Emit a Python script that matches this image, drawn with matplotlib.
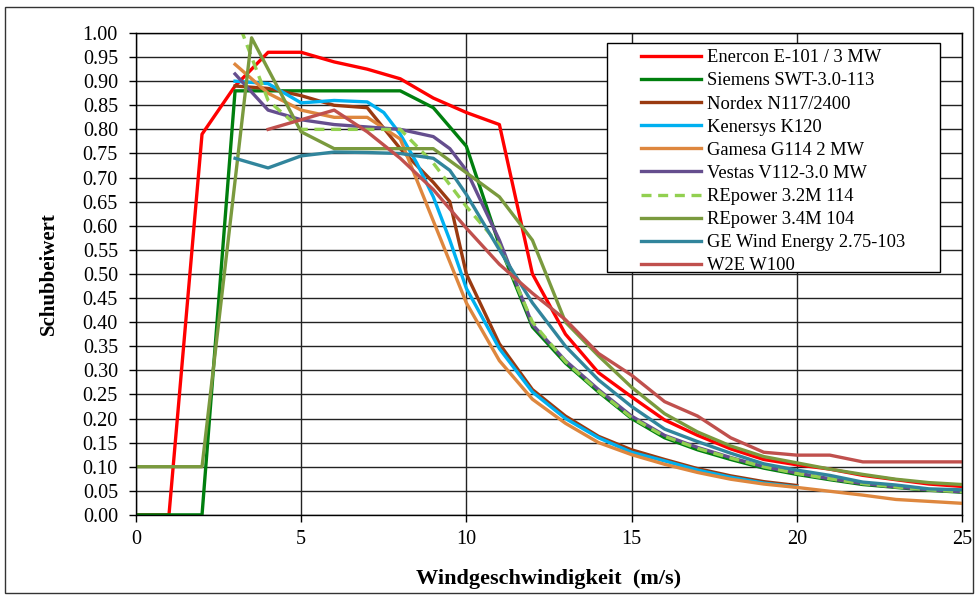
import matplotlib
matplotlib.use("Agg")
import matplotlib.pyplot as plt
from matplotlib.patches import Rectangle

plt.rcParams['font.family'] = ['Liberation Serif', 'DejaVu Serif']

# ---- data (wind speed m/s, thrust coefficient) ----
enercon_x = [0, 1, 2, 3, 4, 5, 6, 7, 8, 9, 10, 11, 12, 13, 14, 15, 16, 17, 18, 19, 20, 21, 22, 23, 24, 25]
enercon_y = [0, 0, 0.79, 0.89, 0.96, 0.96, 0.94, 0.925, 0.905, 0.865, 0.835, 0.81, 0.50, 0.375, 0.295, 0.245,
             0.197, 0.165, 0.137, 0.115, 0.104, 0.095, 0.082, 0.073, 0.064, 0.059]

siemens_x = [0, 1, 2, 3, 4, 5, 6, 7, 8, 9, 10, 11, 12, 13, 14, 15, 16, 17, 18, 19, 20, 21, 22, 23, 24, 25]
siemens_y = [0, 0, 0, 0.88, 0.88, 0.88, 0.88, 0.88, 0.88, 0.845, 0.765, 0.56, 0.39, 0.315, 0.255, 0.2,
             0.16, 0.135, 0.115, 0.097, 0.084, 0.073, 0.063, 0.057, 0.051, 0.047]

nordex_x = [3, 4, 5, 6, 7, 8, 9, 9.5, 10, 11, 12, 13, 14, 15, 16, 17, 18, 19, 20]
nordex_y = [0.89, 0.885, 0.87, 0.85, 0.845, 0.76, 0.69, 0.65, 0.50, 0.355, 0.26, 0.205, 0.163, 0.135,
            0.115, 0.096, 0.081, 0.069, 0.061]

kenersys_x = [3, 4, 5, 6, 7, 7.5, 8, 8.5, 9, 9.5, 10, 11, 12, 13, 14, 15, 16, 17, 18, 19, 20]
kenersys_y = [0.90, 0.895, 0.855, 0.86, 0.857, 0.835, 0.79, 0.73, 0.66, 0.57, 0.47, 0.345, 0.255, 0.20,
              0.16, 0.13, 0.112, 0.093, 0.078, 0.066, 0.058]

gamesa_x = [3, 4, 5, 6, 7, 8, 9, 10, 11, 12, 13, 14, 15, 16, 17, 18, 19, 20, 21, 22, 23, 24, 25]
gamesa_y = [0.935, 0.875, 0.84, 0.825, 0.825, 0.78, 0.61, 0.44, 0.32, 0.24, 0.19, 0.15, 0.125, 0.105,
            0.088, 0.074, 0.064, 0.057, 0.049, 0.041, 0.032, 0.028, 0.024]

vestas_x = [3, 4, 5, 6, 7, 8, 9, 9.5, 10, 11, 12, 13, 14, 15, 16, 17, 18, 19, 20, 21, 22, 23, 24, 25]
vestas_y = [0.915, 0.84, 0.82, 0.81, 0.805, 0.80, 0.785, 0.76, 0.715, 0.57, 0.395, 0.32, 0.26, 0.205,
            0.165, 0.14, 0.119, 0.10, 0.087, 0.075, 0.065, 0.058, 0.052, 0.048]

repower32_x = [3, 4, 5, 6, 7, 8, 9, 10, 11, 12, 13, 14, 15, 16, 17, 18, 19, 20, 21, 22, 23, 24, 25]
repower32_y = [1.04, 0.86, 0.80, 0.80, 0.80, 0.80, 0.73, 0.64, 0.56, 0.40, 0.318, 0.257, 0.202, 0.163,
               0.138, 0.118, 0.10, 0.086, 0.075, 0.065, 0.058, 0.052, 0.048]

repower34_x = [0, 1, 2, 3.5, 5, 6, 7, 8, 9, 10, 11, 12, 13, 14, 15, 16, 17, 18, 19, 20, 21, 22, 23, 24, 25]
repower34_y = [0.10, 0.10, 0.10, 0.99, 0.795, 0.76, 0.76, 0.76, 0.76, 0.71, 0.66, 0.57, 0.40, 0.33, 0.265,
               0.21, 0.172, 0.143, 0.121, 0.108, 0.095, 0.084, 0.074, 0.067, 0.063]

ge_x = [3, 4, 5, 6, 7, 8, 9, 9.5, 10, 11, 12, 13, 14, 15, 16, 17, 18, 19, 20, 21, 22, 23, 24, 25]
ge_y = [0.74, 0.72, 0.745, 0.753, 0.752, 0.75, 0.74, 0.715, 0.665, 0.55, 0.44, 0.35, 0.28, 0.225,
        0.178, 0.152, 0.128, 0.106, 0.093, 0.082, 0.068, 0.062, 0.054, 0.052]

w2e_x = [4, 5, 6, 7, 8, 9, 10, 11, 12, 13, 14, 15, 16, 17, 18, 19, 20, 21, 22, 23, 24, 25]
w2e_y = [0.80, 0.82, 0.84, 0.795, 0.74, 0.675, 0.595, 0.52, 0.46, 0.405, 0.335, 0.29, 0.235, 0.205,
         0.16, 0.13, 0.124, 0.124, 0.11, 0.11, 0.11, 0.11]

series = [
    ("Enercon E-101 / 3 MW", enercon_x, enercon_y, '#FF0000', '-'),
    ("Siemens SWT-3.0-113", siemens_x, siemens_y, '#007F0E', '-'),
    ("Nordex N117/2400", nordex_x, nordex_y, '#9A3A10', '-'),
    ("Kenersys K120", kenersys_x, kenersys_y, '#00B0F0', '-'),
    ("Gamesa G114 2 MW", gamesa_x, gamesa_y, '#DE873E', '-'),
    ("Vestas V112-3.0 MW", vestas_x, vestas_y, '#654E8E', '-'),
    ("REpower 3.2M 114", repower32_x, repower32_y, '#92D050', '--'),
    ("REpower 3.4M 104", repower34_x, repower34_y, '#7A9A3E', '-'),
    ("GE Wind Energy 2.75-103", ge_x, ge_y, '#31859C', '-'),
    ("W2E W100", w2e_x, w2e_y, '#C0504D', '-'),
]

x_ticks = [0, 5, 10, 15, 20, 25]
y_ticks = [i * 0.05 for i in range(21)]

fig = plt.figure(figsize=(9.78, 5.98), dpi=100)
ax = fig.add_axes([0.139, 0.139, 0.8446, 0.8058])

for name, xs, ys, col, ls in series:
    if ls == '--':
        ax.plot(xs, ys, color=col, lw=2.4, ls=(0, (3, 2)), label=name, zorder=2)
    else:
        ax.plot(xs, ys, color=col, lw=2.4, ls=ls, label=name, zorder=2)

ax.set_xlim(0, 25)
ax.set_ylim(0, 1.0)
ax.set_xticks(x_ticks)
ax.set_yticks(y_ticks)
ax.set_yticklabels([f"{v:.2f}" for v in y_ticks])
ax.tick_params(axis='both', direction='out', length=5, width=1, labelsize=14.5, colors='black')
ax.tick_params(axis='y', pad=8)
ax.tick_params(axis='x', pad=6)
ax.grid(True, color='#222222', lw=1.0)
ax.set_axisbelow(True)
for s in ax.spines.values():
    s.set_color('black')
    s.set_linewidth(1.0)

ax.set_xlabel("Windgeschwindigkeit  (m/s)", fontsize=16, fontweight='bold', labelpad=14)
ax.set_ylabel("Schubbeiwert", fontsize=15, fontweight='bold', labelpad=17)

# legend box (drawn manually for its wide side padding)
ax.add_patch(Rectangle((0.570, 0.504), 0.403, 0.475, transform=ax.transAxes,
                       facecolor='white', edgecolor='black', lw=1.0, zorder=4))
leg = ax.legend(loc='upper left', bbox_to_anchor=(0.612, 0.966), fontsize=13.3, frameon=False,
                handlelength=3.2, handletextpad=0.35, labelspacing=0.33, borderpad=0.0,
                borderaxespad=0.0)
leg.set_zorder(5)

fig.patches.append(Rectangle((0.005, 0.008), 0.99, 0.98, transform=fig.transFigure,
                             fill=False, edgecolor='#333333', lw=1.0))

fig.savefig("out.png", dpi=100)
